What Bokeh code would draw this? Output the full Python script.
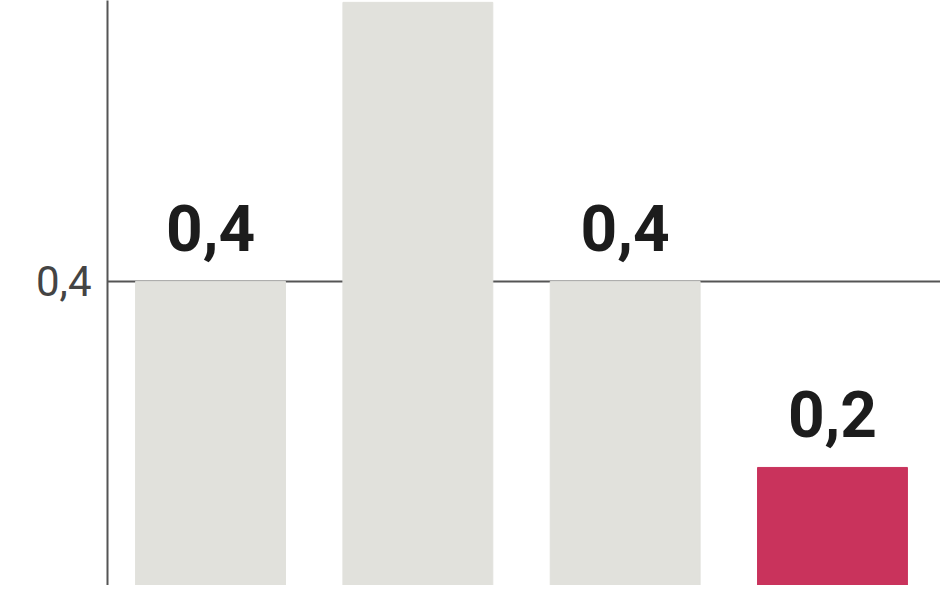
from bokeh.plotting import figure
from bokeh.models import ColumnDataSource, Range1d, FixedTicker, CustomJSTickFormatter
from bokeh.core.properties import value
from bokeh.embed import file_html
from bokeh.resources import INLINE

# data
categories = ["1", "2", "3", "4"]
values = [0.4, 0.7, 0.4, 0.2]
labels = ["0,4", "", "0,4", "0,2"]   # label of bar 2 lies outside the visible crop
colors = ["#e1e1dc", "#e1e1dc", "#e1e1dc", "#c9335c"]
y_ticks = [0.4]

xs = list(range(len(categories)))
src = ColumnDataSource(dict(x=xs, top=values, label=labels, color=colors))

p = figure(width=940, height=585, output_backend="svg", toolbar_location=None,
           x_range=Range1d(-0.497, 3.521), y_range=Range1d(0.0731, 0.702),
           min_border_left=107, min_border_right=0, min_border_top=0, min_border_bottom=0)
p.outline_line_color = None
p.background_fill_color = "white"
p.border_fill_color = "white"

p.vbar(x="x", top="top", bottom=0, width=0.723, color="color", source=src)
p.text(x="x", y="top", text="label", source=src, text_align="center",
       text_baseline="alphabetic", y_offset=-53, text_font=value("Roboto"),
       text_font_style="bold", text_font_size="64px", text_color="#1c1c1c")

p.xaxis.visible = False
p.xgrid.visible = False
yax = p.yaxis[0]
yax.ticker = FixedTicker(ticks=y_ticks)
yax.formatter = CustomJSTickFormatter(code="return tick.toFixed(1).replace('.', ',');")
yax.major_tick_out = 0
yax.major_tick_in = 0
yax.minor_tick_out = 0
yax.minor_tick_in = 0
yax.axis_line_color = "#555555"
yax.axis_line_width = 2
yax.major_label_standoff = 16
yax.major_label_text_font = "Roboto"
yax.major_label_text_font_size = "42px"
yax.major_label_text_color = "#444444"
p.ygrid.ticker = FixedTicker(ticks=y_ticks)
p.ygrid.grid_line_color = "#555555"
p.ygrid.grid_line_width = 2

open("out.html", "w").write(file_html(p, INLINE))
